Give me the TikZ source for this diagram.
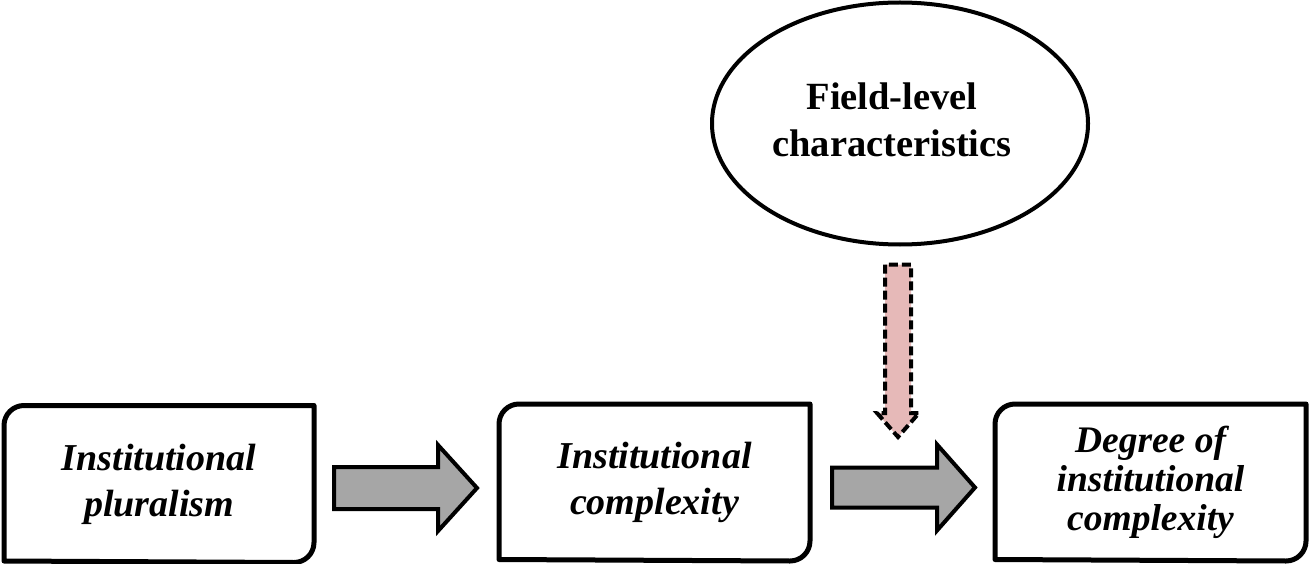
\documentclass[tikz,border=0pt]{standalone}
\usepackage{fontspec}
\setmainfont{Liberation Serif}
\usetikzlibrary{shapes.geometric,calc}
\definecolor{arrowgray}{HTML}{A6A6A6}
\definecolor{arrowpink}{HTML}{E6B9B8}
\tikzset{
  boxtext/.style={draw=none, inner sep=0pt, outer sep=0pt, minimum height=157pt, align=center,
    font=\fontsize{38}{46}\selectfont\bfseries\itshape},
  boxline/.style={line width=5pt, line join=round},
  blockarrow/.style={draw=black, fill=arrowgray, line width=4pt, line join=miter},
  pinkarrow/.style={draw=black, fill=arrowpink, line width=4pt, dash pattern=on 9pt off 4pt, line join=miter},
  fieldellipse/.style={ellipse, draw, line width=4pt, inner sep=0pt, outer sep=0pt,
    minimum width=376pt, minimum height=242pt},
  fieldtext/.style={align=center, inner sep=0pt, font=\fontsize{38.5}{47}\selectfont\bfseries}
}
\begin{document}
\begin{tikzpicture}[x=1pt,y=1pt]
\useasboundingbox (0,0) rectangle (1311,-564);
% boxes
\node[boxtext, minimum width=310pt] (b1) at (159,-484) {Institutional\\pluralism};
\node[boxtext, minimum width=311pt] (b2) at (654.5,-482.5) {Institutional\\complexity};
\node[boxtext, minimum width=311pt, font=\fontsize{37.5}{39}\selectfont\bfseries\itshape] (b3) at (1150.5,-482.5) {Degree of\\institutional\\complexity};
\foreach \b in {b1,b2,b3}{
  \draw[boxline] ($(\b.south west)+(0,1.5)$) -- ($(\b.north west)+(0,-20)$) arc (180:90:20) -- ($(\b.north east)$)
    -- ($(\b.south east)+(0,20)$) arc (0:-90:20) -- cycle;
}
% ellipse
\node[fieldellipse] (e) at (900,-123.5) {};
\node[fieldtext] (et) at (892,-120) {Field-level\\characteristics};
% block arrows
\coordinate (a1s) at ($(b1.east)+(20,-4)$);
\coordinate (a1e) at ($(b2.west)+(-22,-5.5)$);
\draw[blockarrow] ($(a1s)+(0,21)$) -- ($(a1e)+(-39,21)$) -- ($(a1e)+(-39,43)$) -- (a1e)
  -- ($(a1e)+(-39,-43)$) -- ($(a1e)+(-39,-21)$) -- ($(a1s)+(0,-21)$) -- cycle;
\coordinate (a2s) at ($(b2.east)+(22,-5)$);
\coordinate (a2e) at ($(b3.west)+(-20,-5)$);
\draw[blockarrow] ($(a2s)+(0,20)$) -- ($(a2e)+(-38,20)$) -- ($(a2e)+(-38,43)$) -- (a2e)
  -- ($(a2e)+(-38,-43)$) -- ($(a2e)+(-38,-20)$) -- ($(a2s)+(0,-20)$) -- cycle;
% dashed pink arrow
\coordinate (pt) at ($(e.south)+(-2,-20)$);
\coordinate (ptip) at ($(b3.north west)+(-97,-33)$);
\draw[pinkarrow] ($(pt)+(-13,0)$) -- ($(ptip)+(-13,24)$) -- ($(ptip)+(-21,24)$) -- (ptip)
  -- ($(ptip)+(21,24)$) -- ($(ptip)+(13,24)$) -- ($(pt)+(13,0)$) -- cycle;
\end{tikzpicture}
\end{document}
